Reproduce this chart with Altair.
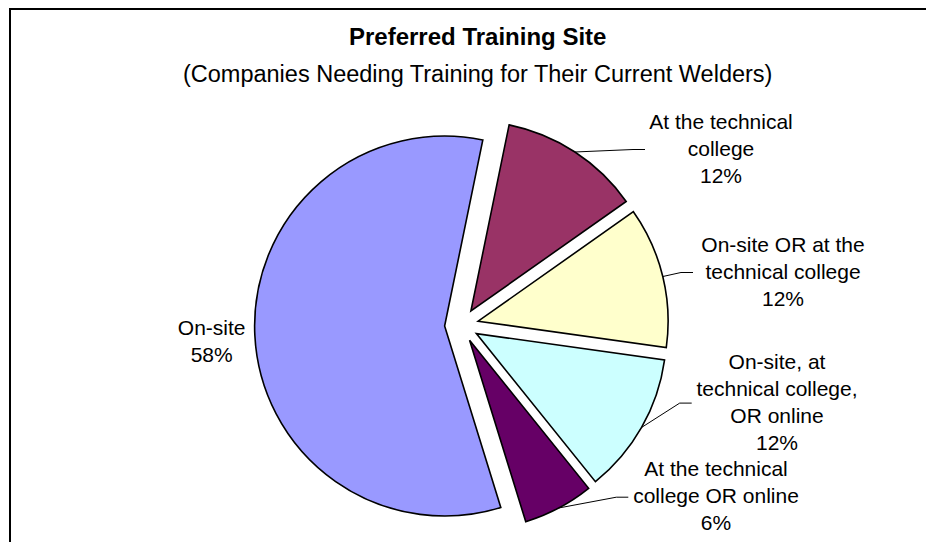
import math
import altair as alt
import pandas as pd

# ---- data ----
categories = [
    "At the technical college",
    "On-site OR at the technical college",
    "On-site, at technical college, OR online",
    "At the technical college OR online",
    "On-site",
]
values = [12, 12, 12, 6, 58]
label_lines = [
    "At the technical\ncollege",
    "On-site OR at the\ntechnical college",
    "On-site, at\ntechnical college,\nOR online",
    "At the technical\ncollege OR online",
    "On-site",
]
colors = ["#993366", "#FFFFCC", "#CCFFFF", "#660066", "#9999FF"]

title_text = "Preferred Training Site"
subtitle_text = "(Companies Needing Training for Their Current Welders)"

# ---- layout (pixels inside the plot area) ----
W, H = 918, 534
CX, CY = 453.6, 317.2          # pie centre
R = 190                        # pie radius
EXPLODE = 17                   # slice explosion distance
A0 = math.radians(11.6)        # angle of first slice
label_x = [713, 775, 769, 708, 203.7]
label_y = [141.5, 264.5, 395.1, 489.2, 334.5]   # vertical centre of each label block
leader_end_x = [637, 685, 683.7, 620.3, None]
STUB = 12
LH = 27
FONT = "Liberation Sans"

labels_full = [f"{l}\n{v}%" for l, v in zip(label_lines, values)]
df = pd.DataFrame({
    "category": categories,
    "value": values,
    "order": list(range(len(categories))),
    "label": labels_full,
    "nlines": [s.count("\n") + 1 for s in labels_full],
    "label_x": label_x,
    "label_y": label_y,
    "leader_x": leader_end_x,
})

base = (
    alt.Chart(df)
    .transform_window(cum="sum(value)", sort=[alt.SortField("order")], frame=[None, 0])
    .transform_joinaggregate(total="sum(value)")
    .transform_calculate(
        t0=f"{A0} + 2*PI*(datum.cum - datum.value)/datum.total",
        t1=f"{A0} + 2*PI*datum.cum/datum.total",
        mid="(datum.t0 + datum.t1)/2",
        cx=f"{CX} + {EXPLODE}*sin(datum.mid)",
        cy=f"{CY} - {EXPLODE}*cos(datum.mid)",
        sx=f"datum.cx + {R}*sin(datum.mid)",
        sy=f"datum.cy - {R}*cos(datum.mid)",
        ex=f"datum.leader_x - {STUB}",
        ly=f"datum.label_y - (datum.nlines - 1)*{LH}/2",
    )
)

arcs = base.mark_arc(radius=R, stroke="black", strokeWidth=1.6).encode(
    theta=alt.Theta("t0:Q", scale=None),
    theta2=alt.Theta2("t1:Q"),
    x=alt.X("cx:Q", scale=None, axis=None),
    y=alt.Y("cy:Q", scale=None, axis=None),
    color=alt.Color("category:N", scale=alt.Scale(domain=categories, range=colors), legend=None),
    order=alt.Order("order:Q"),
)

leaders = base.transform_filter("isValid(datum.leader_x)").mark_rule(color="black", strokeWidth=1).encode(
    x=alt.X("sx:Q", scale=None, axis=None),
    y=alt.Y("sy:Q", scale=None, axis=None),
    x2=alt.X2("ex:Q"),
    y2=alt.Y2("label_y:Q"),
)
stubs = base.transform_filter("isValid(datum.leader_x)").mark_rule(color="black", strokeWidth=1).encode(
    x=alt.X("ex:Q", scale=None, axis=None),
    y=alt.Y("label_y:Q", scale=None, axis=None),
    x2=alt.X2("leader_x:Q"),
    y2=alt.Y2("label_y:Q"),
)

labels = base.mark_text(
    font=FONT, fontSize=21, lineBreak="\n", lineHeight=LH,
    align="center", baseline="middle", color="black",
).encode(
    x=alt.X("label_x:Q", scale=None, axis=None),
    y=alt.Y("ly:Q", scale=None, axis=None),
    text="label:N",
)

title = alt.Chart(pd.DataFrame({"t": [title_text]})).mark_text(
    font=FONT, fontSize=24, fontWeight="bold", align="center", baseline="alphabetic", color="black"
).encode(text="t:N", x=alt.value(469.7), y=alt.value(37))

subtitle = alt.Chart(pd.DataFrame({"t": [subtitle_text]})).mark_text(
    font=FONT, fontSize=23.5, align="center", baseline="alphabetic", color="black"
).encode(text="t:N", x=alt.value(469.7), y=alt.value(74))

# chart-area border (left and top edges; the others fall outside the picture)
frame_df = pd.DataFrame({"k": [0]})
frame_left = alt.Chart(frame_df).mark_rule(color="black", strokeWidth=2).encode(
    x=alt.value(2), y=alt.value(0), y2=alt.value(H)
)
frame_top = alt.Chart(frame_df).mark_rule(color="black", strokeWidth=2).encode(
    x=alt.value(1), x2=alt.value(W), y=alt.value(1)
)

chart = (
    alt.layer(frame_left, frame_top, arcs, leaders, stubs, labels, title, subtitle)
    .properties(width=W, height=H, padding=0, autosize=alt.AutoSizeParams(type="none"),
                background="white")
    .configure_view(stroke="white", strokeWidth=0, strokeOpacity=0)
)

chart.save("out.html", embed_options={"renderer": "svg", "actions": False})
